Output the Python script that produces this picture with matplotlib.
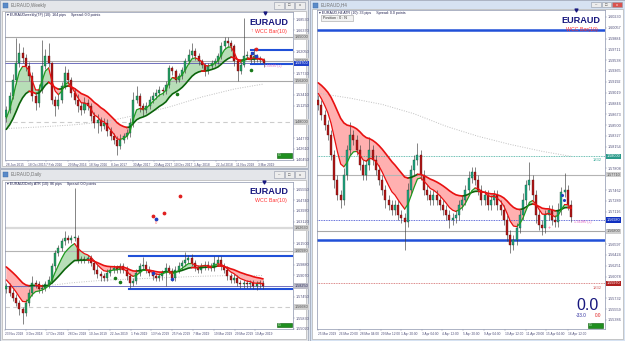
import numpy as np
import pandas as pd
import matplotlib
matplotlib.use("Agg")
import matplotlib.pyplot as plt
from matplotlib.patches import Rectangle
from matplotlib.transforms import blended_transform_factory as btf

plt.rcParams['font.family'] = ['Liberation Sans', 'DejaVu Sans']

# ======================= DATA =======================
# ---- Weekly panel ----
w_open0 = 1.490
w_close = [1.504, 1.531, 1.564, 1.597, 1.617, 1.607, 1.591, 1.571, 1.531, 1.517,
           1.544, 1.591, 1.611, 1.597, 1.524, 1.511, 1.524, 1.551, 1.577, 1.564,
           1.537, 1.524, 1.511, 1.504, 1.517, 1.511, 1.491, 1.477, 1.484, 1.471,
           1.477, 1.461, 1.451, 1.444, 1.431, 1.444, 1.451, 1.457, 1.477, 1.524,
           1.531, 1.511, 1.504, 1.511, 1.524, 1.531, 1.537, 1.544, 1.541, 1.554,
           1.587, 1.581, 1.564, 1.571, 1.584, 1.601, 1.614, 1.621, 1.611, 1.601,
           1.594, 1.581, 1.591, 1.597, 1.601, 1.611, 1.631, 1.641, 1.637, 1.631,
           1.601, 1.581, 1.594, 1.611, 1.614, 1.604, 1.611, 1.607, 1.604, 1.597]
w_high = [1.512, 1.540, 1.575, 1.647, 1.637, 1.630, 1.615, 1.600, 1.580, 1.540,
          1.555, 1.644, 1.625, 1.637, 1.600, 1.532, 1.535, 1.560, 1.591, 1.585,
          1.570, 1.548, 1.535, 1.520, 1.530, 1.525, 1.518, 1.500, 1.495, 1.490,
          1.488, 1.485, 1.470, 1.458, 1.452, 1.455, 1.458, 1.465, 1.488, 1.540,
          1.551, 1.537, 1.518, 1.520, 1.532, 1.540, 1.545, 1.552, 1.550, 1.562,
          1.594, 1.592, 1.586, 1.578, 1.590, 1.608, 1.625, 1.637, 1.627, 1.617,
          1.606, 1.598, 1.597, 1.603, 1.607, 1.618, 1.640, 1.649, 1.649, 1.643,
          1.635, 1.606, 1.600, 1.687, 1.622, 1.619, 1.627, 1.616, 1.611, 1.607]
w_low = [1.480, 1.497, 1.525, 1.555, 1.590, 1.598, 1.582, 1.562, 1.522, 1.504,
         1.510, 1.537, 1.585, 1.590, 1.515, 1.491, 1.505, 1.518, 1.545, 1.556,
         1.530, 1.515, 1.500, 1.494, 1.497, 1.503, 1.482, 1.468, 1.457, 1.462,
         1.465, 1.452, 1.443, 1.436, 1.414, 1.425, 1.438, 1.445, 1.450, 1.470,
         1.517, 1.500, 1.491, 1.497, 1.505, 1.518, 1.525, 1.531, 1.534, 1.535,
         1.548, 1.574, 1.557, 1.559, 1.566, 1.578, 1.595, 1.608, 1.604, 1.594,
         1.587, 1.571, 1.575, 1.585, 1.591, 1.596, 1.606, 1.626, 1.630, 1.622,
         1.592, 1.561, 1.575, 1.589, 1.605, 1.597, 1.598, 1.600, 1.598, 1.590]
w_warm = [1.440, 1.450, 1.460, 1.450, 1.470, 1.480, 1.470, 1.490]
w_long_idx = [0, 10, 20, 30, 40, 50, 60, 70, 79]
w_long = [1.467, 1.470, 1.474, 1.480, 1.494, 1.510, 1.530, 1.546, 1.556]
w_ticks = [1.6853, 1.6637, 1.6421, 1.6205, 1.5989, 1.5773, 1.5557, 1.5341,
           1.5125, 1.4909, 1.4693, 1.4477, 1.4261, 1.4045]
w_dates = ["28 Jun 2015", "18 Oct 2015", "7 Feb 2016", "29 May 2016", "18 Sep 2016",
           "8 Jan 2017", "30 Apr 2017", "20 Aug 2017", "10 Dec 2017", "1 Apr 2018",
           "22 Jul 2018", "11 Nov 2018", "3 Mar 2019"]
w_date_pos = [0, 6.7, 12.3, 19, 25.5, 32.2, 39, 45.4, 51.5, 57.7, 64.4, 70.6, 77.3]

# ---- Daily panel ----
d_open0 = 1.5800
d_close = [1.5825, 1.5775, 1.5738, 1.5700, 1.5650, 1.5625, 1.5700, 1.5775, 1.5850, 1.5838,
           1.5800, 1.5813, 1.5838, 1.5875, 1.5975, 1.6075, 1.6113, 1.6163, 1.6188, 1.6175,
           1.6188, 1.6188, 1.6025, 1.6030, 1.6025, 1.6038, 1.6000, 1.5950, 1.5913, 1.5900,
           1.5888, 1.5925, 1.5950, 1.5963, 1.5950, 1.5975, 1.5950, 1.5900, 1.5850, 1.5863,
           1.5925, 1.5975, 1.5988, 1.5950, 1.5925, 1.5900, 1.5888, 1.5900, 1.5925, 1.5963,
           1.5938, 1.5888, 1.5950, 1.5975, 1.6000, 1.6025, 1.6038, 1.6000, 1.5963, 1.5950,
           1.5975, 1.5988, 1.5975, 1.5963, 1.6000, 1.6025, 1.5975, 1.5950, 1.5900, 1.5875,
           1.5888, 1.5850, 1.5838, 1.5850, 1.5838, 1.5850, 1.5825, 1.5838, 1.5850, 1.5825]
d_wick_up_pips = [25, 25, 25, 25, 20, 20, 25, 25, 50, 25,
                  25, 25, 25, 30, 25, 25, 25, 25, 50, 25,
                  25, 375, 25, 25, 25, 25, 25, 25, 35, 25,
                  25, 30, 25, 25, 25, 25, 25, 25, 25, 25,
                  30, 25, 57, 25, 25, 25, 25, 25, 25, 40,
                  25, 25, 25, 35, 25, 60, 25, 30, 25, 25,
                  25, 25, 25, 25, 55, 25, 30, 25, 25, 25,
                  25, 20, 25, 25, 25, 25, 25, 25, 25, 25]
d_wick_dn_pips = [25, 25, 25, 25, 40, 87, 25, 25, 25, 25,
                  30, 25, 25, 25, 25, 25, 25, 25, 25, 25,
                  25, 25, 25, 25, 25, 25, 25, 30, 25, 35,
                  25, 25, 25, 25, 25, 25, 25, 25, 37, 25,
                  25, 25, 25, 25, 25, 30, 25, 25, 25, 100,
                  25, 25, 25, 25, 25, 25, 25, 25, 25, 25,
                  25, 25, 25, 25, 25, 25, 25, 25, 30, 25,
                  25, 25, 25, 25, 25, 25, 25, 30, 30, 25]
d_warm = [1.612, 1.610, 1.608, 1.606, 1.604, 1.602, 1.600, 1.597, 1.594, 1.591,
          1.588, 1.585, 1.582]
d_long_idx = [0, 10, 20, 30, 40, 50, 60, 70, 79]
d_long = [1.5810, 1.5820, 1.5850, 1.5870, 1.5880, 1.5890, 1.5900, 1.5905, 1.5905]
d_ticks = [1.6555, 1.6474, 1.6393, 1.6312, 1.6231, 1.6150, 1.6069, 1.5988,
           1.5907, 1.5826, 1.5745, 1.5664, 1.5583, 1.5502]
d_dates = ["23 Nov 2018", "3 Dec 2018", "17 Dec 2018", "28 Dec 2018", "10 Jan 2019",
           "22 Jan 2019", "1 Feb 2019", "13 Feb 2019", "25 Feb 2019", "7 Mar 2019",
           "19 Mar 2019", "29 Mar 2019", "10 Apr 2019"]
d_date_pos = [-0.3, 6.2, 12.3, 19, 25.3, 31.8, 38.3, 44.6, 51, 57.4, 63.8, 70.3, 76.6]

# ---- H4 panel ----
h_open0 = 1.5890
h_close = [1.5882, 1.5866, 1.5850, 1.5834, 1.5802, 1.5762, 1.5738, 1.5730, 1.5770, 1.5810,
           1.5834, 1.5826, 1.5810, 1.5786, 1.5770, 1.5786, 1.5810, 1.5794, 1.5778, 1.5762,
           1.5746, 1.5730, 1.5722, 1.5714, 1.5722, 1.5706, 1.5701, 1.5695, 1.5746, 1.5778,
           1.5794, 1.5802, 1.5770, 1.5746, 1.5738, 1.5730, 1.5738, 1.5730, 1.5722, 1.5714,
           1.5706, 1.5698, 1.5701, 1.5706, 1.5722, 1.5730, 1.5746, 1.5765, 1.5775, 1.5762,
           1.5746, 1.5730, 1.5738, 1.5722, 1.5730, 1.5738, 1.5722, 1.5714, 1.5698, 1.5674,
           1.5658, 1.5666, 1.5685, 1.5706, 1.5730, 1.5754, 1.5762, 1.5738, 1.5706, 1.5690,
           1.5685, 1.5706, 1.5714, 1.5698, 1.5695, 1.5714, 1.5743, 1.5746, 1.5722, 1.5703]
h_wick_up_pips = [8, 8, 8, 8, 8, 8, 8, 8, 12, 8,
                  21, 8, 8, 8, 8, 8, 21, 8, 8, 8,
                  8, 8, 8, 8, 8, 8, 8, 8, 12, 8,
                  8, 19, 8, 8, 8, 8, 8, 8, 8, 8,
                  8, 8, 8, 8, 8, 8, 8, 12, 8, 8,
                  8, 8, 8, 8, 8, 8, 8, 8, 8, 8,
                  8, 8, 8, 8, 12, 8, 29, 8, 8, 8,
                  8, 8, 8, 8, 8, 12, 8, 27, 8, 8]
h_wick_dn_pips = [8, 8, 8, 8, 8, 12, 8, 12, 8, 8,
                  8, 8, 8, 8, 8, 8, 8, 8, 8, 8,
                  8, 12, 8, 8, 8, 8, 8, 45, 8, 8,
                  8, 8, 8, 8, 8, 8, 8, 8, 8, 8,
                  8, 12, 8, 8, 8, 8, 8, 8, 8, 8,
                  8, 8, 8, 8, 8, 8, 8, 8, 8, 10,
                  12, 8, 8, 8, 8, 8, 8, 8, 12, 8,
                  11, 8, 8, 8, 8, 8, 8, 8, 8, 8]
h_warm = [1.5930, 1.5935, 1.5940, 1.5932, 1.5925, 1.5920, 1.5915, 1.5910, 1.5905, 1.5898, 1.5890]
h_long_idx = [0, 10, 20, 30, 40, 50, 60, 70, 79]
h_long = [1.5901, 1.5893, 1.5883, 1.5868, 1.5848, 1.5832, 1.5819, 1.5808, 1.5800]
h_ticks = [1.60230, 1.60057, 1.59884, 1.59711, 1.59538, 1.59365, 1.59192, 1.59019,
           1.58846, 1.58673, 1.58500, 1.58327, 1.58154, 1.57981, 1.57808, 1.57635,
           1.57462, 1.57289, 1.57116, 1.56943, 1.56770, 1.56597, 1.56424, 1.56251,
           1.56078, 1.55905, 1.55732, 1.55559, 1.55386]
h_dates = ["25 Mar 2019", "26 Mar 20:00", "28 Mar 04:00", "29 Mar 12:00", "1 Apr 20:00",
           "3 Apr 04:00", "4 Apr 12:00", "5 Apr 20:00", "9 Apr 04:00", "10 Apr 12:00",
           "11 Apr 20:00", "15 Apr 04:00", "16 Apr 12:00"]
h_date_pos = [0, 6.6, 13.1, 19.5, 26, 32.3, 38.8, 45.3, 51.7, 58.3, 64.8, 71.3, 77.9]

# ======================= DRAWING =======================
W, H = 625, 341
fig = plt.figure(figsize=(6.25, 3.41), dpi=100)
fig.patch.set_facecolor('#dfe4ec')

bg = fig.add_axes([0, 0, 1, 1])
bg.set_xlim(0, W); bg.set_ylim(H, 0); bg.axis('off')


def window(x0, y0, x1, y1, title, tbh, active=False):
    frame = '#d6e2f2' if active else '#e4e6ea'
    bg.add_patch(Rectangle((x0, y0), x1 - x0, y1 - y0, fc=frame, ec='#a4acbc', lw=0.6))
    bg.add_patch(Rectangle((x0 + 2, y0 + tbh), x1 - x0 - 4, y1 - y0 - tbh - 2,
                           fc='white', ec='#b4b4b4', lw=0.5))
    bg.add_patch(Rectangle((x0 + 3, y0 + 2.5), 5, 5, fc='#5a8ac8', ec='#3a6aa8', lw=0.3))
    bg.text(x0 + 11, y0 + tbh / 2 + 0.3, title, fontsize=3.3, color='#707070', va='center')
    glyphs = ['\u2013', '\u25a1', 'x']
    for k in range(3):
        bx = x1 - 34 + k * 10.5
        fc = '#d9534f' if (active and k == 2) else '#ededed'
        bg.add_patch(Rectangle((bx, y0 + 2), 9.5, tbh - 4, fc=fc, ec='#9098a8', lw=0.4))
        bg.text(bx + 4.75, y0 + tbh / 2, glyphs[k], fontsize=3, ha='center', va='center',
                color='white' if (active and k == 2) else '#505050')


window(0, 0, 308, 168, 'EURAUD,Weekly', 10.5)
window(0, 169, 308, 341, 'EURAUD,Daily', 11)
window(310, 0, 625, 341, 'EURAUD,H4', 9, active=True)


def chart(x0, y0, x1, y1):
    ax = fig.add_axes([x0 / W, 1 - y1 / H, (x1 - x0) / W, (y1 - y0) / H])
    ax.set_facecolor('white')
    for s in ax.spines.values():
        s.set_color('#8c94ac'); s.set_linewidth(0.5)
    ax.yaxis.tick_right()
    ax.tick_params(axis='y', labelsize=2.7, length=1.2, width=0.3,
                   colors='#8c94ac', labelcolor='#50507a', pad=1)
    ax.tick_params(axis='x', labelsize=2.3, length=1.2, width=0.3,
                   colors='#8c94ac', labelcolor='#50507a', pad=0.8)
    return ax


def candles(ax, open0, closes, highs, lows, up='#27a066', dn='#b01818'):
    c = np.asarray(closes, float)
    o = np.concatenate([[open0], c[:-1]])
    x = np.arange(len(c))
    ax.vlines(x, lows, highs, color='#404040', lw=0.45, zorder=3)
    rng = ax.get_ylim()[1] - ax.get_ylim()[0]
    h = np.maximum(np.abs(c - o), rng * 0.004)
    bull = c >= o
    ax.bar(x[bull], h[bull], bottom=np.minimum(o, c)[bull], width=0.62, color=up,
           edgecolor='#0d4d2a', lw=0.25, zorder=4)
    ax.bar(x[~bull], h[~bull], bottom=np.minimum(o, c)[~bull], width=0.62, color=dn,
           edgecolor='#5a0a0a', lw=0.25, zorder=4)
    return o


def ma_band(ax, warm, closes, fast, slow):
    s = pd.Series(list(warm) + list(closes))
    f = s.ewm(span=fast, adjust=False).mean().values[len(warm):]
    sl = s.ewm(span=slow, adjust=False).mean().values[len(warm):]
    x = np.arange(len(closes))
    ax.fill_between(x, f, sl, where=f >= sl, interpolate=True, color='#b7deb7', lw=0, zorder=1)
    ax.fill_between(x, f, sl, where=f < sl, interpolate=True, color='#ffb0b0', lw=0, zorder=1)
    for arr, lw, gcol in [(sl, 1.2, '#0b640b'), (f, 0.9, '#1f9a1f')]:
        rising = np.concatenate([[arr[1] >= arr[0]], np.diff(arr) >= 0])
        gm = rising.copy(); gm[:-1] |= rising[1:]
        rm = ~rising; rm2 = rm.copy(); rm2[:-1] |= rm[1:]
        ax.plot(x, np.where(gm, arr, np.nan), color=gcol, lw=lw, zorder=5, solid_capstyle='round')
        ax.plot(x, np.where(rm2, arr, np.nan), color='#e81010', lw=lw, zorder=5, solid_capstyle='round')


def axis_labels(ax, ticks, dpos, dlabels, boxes):
    step = abs(ticks[0] - ticks[1])
    keep = [t for t in ticks if min(abs(t - b) for b in boxes) > 0.55 * step]
    ax.set_yticks(keep)
    ax.set_yticklabels([f"{t:.5f}" for t in keep])
    ax.set_xticks(dpos)
    ax.set_xticklabels(dlabels)
    for lab in ax.get_xticklabels():
        lab.set_ha('left')


def hline(ax, y, color, lw, ls='-', x0=None):
    xl = ax.get_xlim()
    ax.plot([xl[0] if x0 is None else x0, xl[1]], [y, y], color=color, lw=lw, ls=ls, zorder=2)


def price_box(ax, y, fc, tc='white'):
    ax.text(1.006, y, f"{y:.5f}", transform=btf(ax.transAxes, ax.transData), fontsize=2.7,
            va='center', ha='left', color=tc, clip_on=False, zorder=8,
            bbox=dict(boxstyle='square,pad=0.2', fc=fc, ec='none'))


# ---------- Weekly ----------
ax1 = chart(5, 12, 293, 160)
ax1.set_xlim(-0.4, 88.0); ax1.set_ylim(1.404, 1.700)
for y in [1.650, 1.602, 1.562]:
    hline(ax1, y, '#a8a8a8', 0.8)
hline(ax1, 1.480, '#cccccc', 0.8, ls=(0, (4, 3)))
hline(ax1, 1.598, '#5a5ab4', 0.6)
hline(ax1, 1.624, '#2050d8', 1.5, x0=75)
hline(ax1, 1.5955, '#2050d8', 1.5, x0=75)
ax1.plot(w_long_idx, w_long, ls=(0, (1, 1.5)), color='#c0c0c0', lw=0.7, zorder=2)
ma_band(ax1, w_warm, w_close, 4, 14)
candles(ax1, w_open0, w_close, w_high, w_low)
ax1.scatter([52.5, 75.0], [1.536, 1.583], s=2.5, color='#1a7a1a', zorder=6)
ax1.scatter([76.5], [1.626], s=3, color='#e02020', zorder=6)
ax1.scatter([75.5, 76.5], [1.618, 1.612], s=3, marker='s', color='#2040c0', zorder=6)
w_boxes = [1.650, 1.602, 1.562, 1.480, 1.597]
axis_labels(ax1, w_ticks, w_date_pos, w_dates, w_boxes)
for y in [1.650, 1.602, 1.562, 1.480]:
    price_box(ax1, y, '#cfcfcf', '#505050')
price_box(ax1, 1.597, '#2040c8')

# ---------- Daily ----------
ax2 = chart(5, 182, 293, 329)
ax2.set_xlim(-0.4, 88.2); ax2.set_ylim(1.5508, 1.661)
d_high = [max(o, c) + u * 1e-4 for o, c, u in
          zip([d_open0] + d_close[:-1], d_close, d_wick_up_pips)]
d_low = [min(o, c) - u * 1e-4 for o, c, u in
         zip([d_open0] + d_close[:-1], d_close, d_wick_dn_pips)]
hline(ax2, 1.6263, '#dadada', 1.6)
hline(ax2, 1.6093, '#b4b4b4', 0.8)
hline(ax2, 1.5668, '#cccccc', 0.8, ls=(0, (4, 3)))
hline(ax2, 1.5826, '#5a5ab4', 0.6)
hline(ax2, 1.6050, '#2050d8', 1.5, x0=37.9)
hline(ax2, 1.5806, '#2050d8', 1.5, x0=37.9)
ax2.plot(d_long_idx, d_long, ls=(0, (1, 1.5)), color='#c0c0c0', lw=0.7, zorder=2)
ma_band(ax2, d_warm, d_close, 6, 18)
candles(ax2, d_open0, d_close, d_high, d_low)
ax2.scatter([45.1, 48.5, 53.3], [1.6350, 1.6375, 1.6505], s=3, color='#e02020', zorder=6)
ax2.scatter([45.9], [1.6330], s=3, color='#2040c0', zorder=6)
ax2.text(46.0, 1.6300, '0', fontsize=3, color='#ff6060', ha='center', va='center', zorder=6)
ax2.scatter([33.3, 35.1], [1.5888, 1.5858], s=2.5, color='#1a7a1a', zorder=6)
ax2.scatter([45.0, 51.0], [1.5925, 1.5880], s=2.5, color='#2040c0', zorder=6)
d_boxes = [1.6263, 1.6093, 1.5668, 1.5825]
axis_labels(ax2, d_ticks, d_date_pos, d_dates, d_boxes)
for y in [1.6263, 1.6093, 1.5668]:
    price_box(ax2, y, '#cfcfcf', '#505050')
price_box(ax2, 1.5825, '#bdbdc8', '#303060')

# ---------- H4 ----------
ax3 = chart(317, 10, 605, 329)
ax3.set_xlim(-0.4, 89.6); ax3.set_ylim(1.5524, 1.6034)
h_high = [max(o, c) + u * 1e-4 for o, c, u in
          zip([h_open0] + h_close[:-1], h_close, h_wick_up_pips)]
h_low = [min(o, c) - u * 1e-4 for o, c, u in
         zip([h_open0] + h_close[:-1], h_close, h_wick_dn_pips)]
hline(ax3, 1.6002, '#2050d8', 1.8)
hline(ax3, 1.5800, '#3aaa9a', 0.6, ls=(0, (1, 1)))
hline(ax3, 1.5771, '#b4b4b4', 0.8)
hline(ax3, 1.5698, '#3040d0', 0.6, ls=(0, (1, 1)))
hline(ax3, 1.5680, '#a8a8a8', 0.8)
hline(ax3, 1.5667, '#2050d8', 1.8)
hline(ax3, 1.5597, '#d06060', 0.6, ls=(0, (1, 1)))
ax3.plot(h_long_idx, h_long, ls=(0, (1, 1.5)), color='#c0c0c0', lw=0.7, zorder=2)
ma_band(ax3, h_warm, h_close, 7, 24)
candles(ax3, h_open0, h_close, h_high, h_low, up='#22a584')
ax3.text(72.2, 1.5687, '+', fontsize=4, color='#ff5090', ha='center', va='center', zorder=6)
ax3.scatter([76.3, 76.8], [1.5738, 1.5731], s=1.5, color='#2040c0', zorder=6)
h_boxes = [1.5800, 1.5771, 1.5698, 1.5680, 1.5597]
axis_labels(ax3, h_ticks, h_date_pos, h_dates, h_boxes)
price_box(ax3, 1.5800, '#2a9a8a')
price_box(ax3, 1.5771, '#cfcfcf', '#505050')
price_box(ax3, 1.5698, '#1030c0')
price_box(ax3, 1.5680, '#cfcfcf', '#505050')
price_box(ax3, 1.5597, '#b02020')

# ---------- overlay texts ----------
ov = fig.add_axes([0, 0, 1, 1], zorder=10)
ov.set_xlim(0, W); ov.set_ylim(H, 0); ov.axis('off'); ov.patch.set_alpha(0)

ov.text(7, 14.8, '\u25be EURAUDweekly(TF) (10): 164 pips     Spread: 0.0 points',
        fontsize=2.6, color='#202050', va='center')
ov.text(7, 184.5, '\u25be EURAUDDaily ATR (10): 86 pips     Spread: 0.0 points',
        fontsize=2.6, color='#202050', va='center')
ov.text(319, 12.6, '\u25be EURAUD,H4 ATR (10): 33 pips     Spread: 0.0 points',
        fontsize=2.6, color='#202050', va='center')

for (cx, cy) in [(268.5, 22.5), (268.5, 191.2), (580.5, 20.2)]:
    ov.text(cx, cy, 'EURAUD', fontsize=6.6, weight='bold', color='#17177e',
            ha='center', va='center')
for (cx, cy) in [(271, 32), (271, 200.7), (582, 29.5)]:
    ov.text(cx, cy, 'WCC Bar(10)', fontsize=3.8, color='#ff3030', ha='center', va='center')
ov.text(251.5, 30, '\u2191', fontsize=3.5, color='#ff3030', ha='center', va='center')

for (sx, sy) in [(265, 12.8), (264, 182.4), (576, 10.4)]:
    ov.scatter([sx], [sy], marker='v', s=4, color='#17177e', zorder=11)

ov.text(264, 66.2, '1.59530 (+)', fontsize=2.4, color='#e060c0', va='center')
ov.text(574, 222.3, '1.56980 (+)', fontsize=2.4, color='#e060c0', va='center')
ov.text(597, 160.2, '1832', fontsize=3, color='#3aaa9a', ha='center', va='center')
ov.text(597, 287.6, '1832', fontsize=3, color='#d06060', ha='center', va='center')

for (gx, gy) in [(277, 153), (276.5, 322.8), (588, 323)]:
    ov.add_patch(Rectangle((gx, gy), 15, 4.6, fc='#1f8f1f', ec='#0a5a0a', lw=0.4))
    ov.text(gx + 2.5, gy + 2.3, 'G', fontsize=2.6, color='white', va='center', ha='center')

ov.add_patch(Rectangle((321, 14.8), 32, 6.3, fc='#f2f2f2', ec='#a0a0a0', lw=0.4))
ov.text(323, 18, 'Position : 0 : N', fontsize=2.7, color='#303030', va='center')

ov.text(587.5, 305, '0.0', fontsize=11.5, color='#17177e', ha='center', va='center')
ov.text(581, 315.8, '-33.0', fontsize=3.4, color='#3030a0', ha='center', va='center')
ov.text(598.5, 315.8, '0.0', fontsize=3.4, color='#e02020', ha='center', va='center')

fig.savefig('out.png', dpi=100)
